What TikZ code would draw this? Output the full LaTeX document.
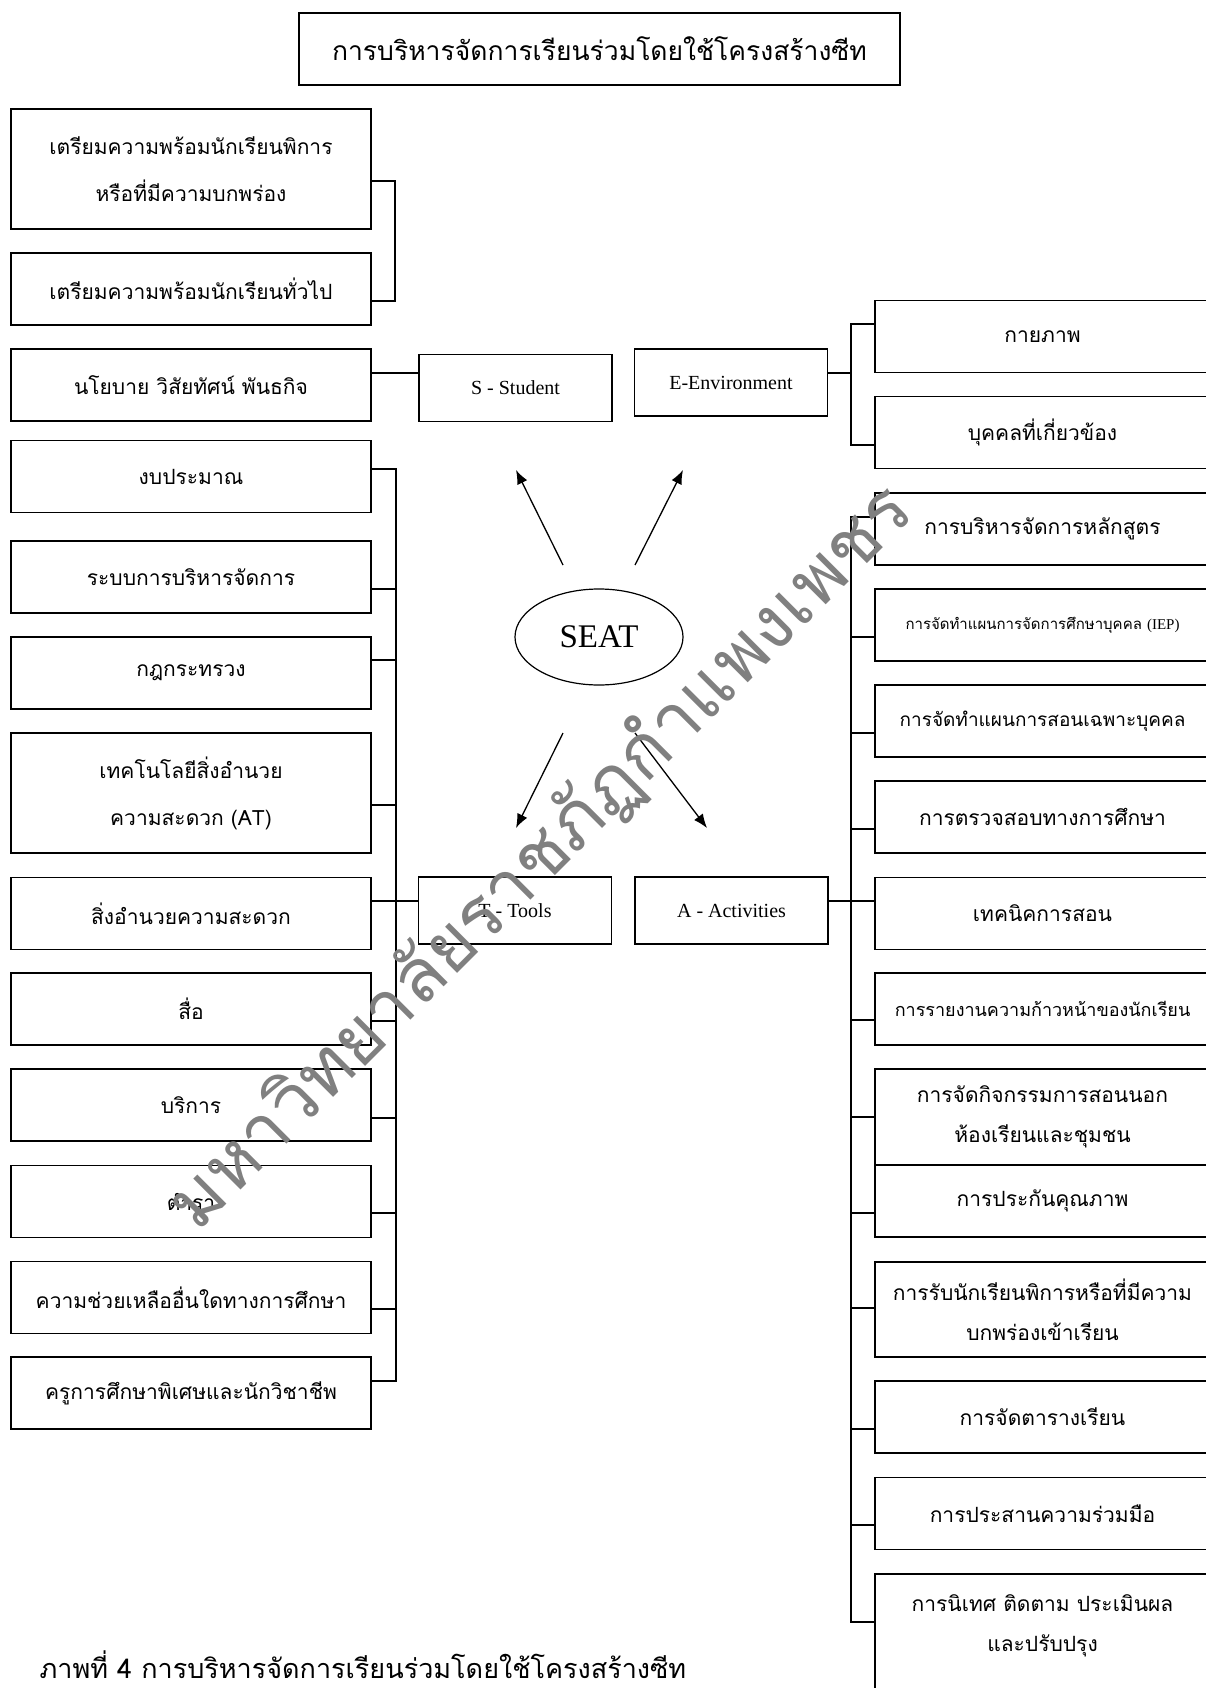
\documentclass[tikz,border=0pt]{standalone}
\usepackage{fontspec}
\setmainfont{Liberation Serif}
\newfontfamily\thaifont[Script=Thai]{Loma}
\usetikzlibrary{calc,arrows.meta,shapes.geometric}
\tikzset{
>={Latex[length=14pt,width=11pt]},
  punkt/.style={
    rectangle,
    draw=black, line width=1.6pt,
    minimum width=360pt,
    minimum height=72pt,
    inner sep=0pt,
    align=center,
    font=\thaifont\fontsize{21}{47}\selectfont},
  rechts/.style={
    punkt,
    minimum width=335pt,
    font=\thaifont\fontsize{21}{40}\selectfont},
  hub/.style={
    rectangle,
    draw=black, line width=1.6pt,
    minimum width=193pt,
    minimum height=67pt,
    inner sep=0pt,
    font=\fontsize{20}{24}\selectfont},
  line/.style={draw, line width=1.6pt},
  pil/.style={draw, line width=1.3pt, ->},
}
\begin{document}
\begin{tikzpicture}[x=1pt,y=-1pt]
  \useasboundingbox (0,0) rectangle (1206,1688);
  \clip (0,0) rectangle (1206,1688);
     \node[punkt, minimum width=601pt, line width=2pt,
       font=\thaifont\fontsize{26.5}{30}\selectfont] (title) at (599.5,49) {การบริหารจัดการเรียนร่วมโดยใช้โครงสร้างซีท};
     % student side
     \node[punkt, minimum height=120pt] (prepA) at (191,169) {เตรียมความพร้อมนักเรียนพิการ\\หรือที่มีความบกพร่อง};
     \node[punkt] (prepB) at (191,289) {เตรียมความพร้อมนักเรียนทั่วไป};
     \node[punkt] (policy) at (191,385) {นโยบาย วิสัยทัศน์ พันธกิจ};
     % tools side
     \node[punkt] (budget) at (191,476.5) {งบประมาณ};
     \node[punkt] (mgmt) at (191,577) {ระบบการบริหารจัดการ};
     \node[punkt] (rules) at (191,673) {กฎกระทรวง};
     \node[punkt, minimum height=120pt] (tech) at (191,793) {เทคโนโลยีสิ่งอำนวย\\ความสะดวก (AT)};
     \node[punkt] (facil) at (191,913.5) {สิ่งอำนวยความสะดวก};
     \node[punkt] (media) at (191,1009) {สื่อ};
     \node[punkt] (service) at (191,1105) {บริการ};
     \node[punkt] (texts) at (191,1201.5) {ตำรา};
     \node[punkt] (support) at (191,1297.5) {ความช่วยเหลืออื่นใดทางการศึกษา};
     \node[punkt] (teachers) at (191,1393) {ครูการศึกษาพิเศษและนักวิชาชีพ};
     % the four parts
     \node[hub] (student) at (515.5,388) {S - Student};
     \node[hub] (env) at (731,382.5) {E-Environment};
     \node[hub] (tools) at (515,910.5) {T - Tools};
     \node[hub] (acts) at (731.5,910.5) {A - Activities};
     \node[ellipse, draw, line width=1.2pt, minimum width=168pt, minimum height=96pt,
       font=\fontsize{33}{36}\selectfont] (seat) at (599,637) {SEAT};
     % environment side
     \node[rechts] (phys) at (1042.5,336.5) {กายภาพ};
     \node[rechts] (people) at (1042.5,432.5) {บุคคลที่เกี่ยวข้อง};
     % activities side
     \node[rechts] (curri) at (1042.5,529) {การบริหารจัดการหลักสูตร};
     \node[rechts, font=\thaifont\fontsize{15}{18}\selectfont] (iep) at (1042.5,625) {การจัดทำแผนการจัดการศึกษาบุคคล {\rmfamily (IEP)}};
     \node[rechts, font=\thaifont\fontsize{19}{22}\selectfont] (plan) at (1042.5,721) {การจัดทำแผนการสอนเฉพาะบุคคล};
     \node[rechts] (assess) at (1042.5,817) {การตรวจสอบทางการศึกษา};
     \node[rechts] (teach) at (1042.5,913.5) {เทคนิคการสอน};
     \node[rechts, font=\thaifont\fontsize{18}{22}\selectfont] (report) at (1042.5,1009) {การรายงานความก้าวหน้าของนักเรียน};
     \node[rechts, minimum height=96pt] (outside) at (1042.5,1117) {การจัดกิจกรรมการสอนนอก\\ห้องเรียนและชุมชน};
     \node[rechts] (qa) at (1042.5,1201) {การประกันคุณภาพ};
     \node[rechts, minimum height=95pt] (admit) at (1042.5,1309.5) {การรับนักเรียนพิการหรือที่มีความ\\บกพร่องเข้าเรียน};
     \node[rechts] (timetable) at (1042.5,1417) {การจัดตารางเรียน};
     \node[rechts] (coop) at (1042.5,1513.5) {การประสานความร่วมมือ};
     \node[rechts, minimum height=140pt, text depth=42pt] (supervise) at (1042.5,1644) {การนิเทศ ติดตาม ประเมินผล\\และปรับปรุง};
     % connectors
     \draw[line] (prepA.east |- 0,181) -- (395,181) -- (395,301) -- (prepB.east |- 0,301);
     \draw[line] (policy.east |- 0,373) -- (student.west |- 0,373);
     \draw[line] (env.east |- 0,373) -- (851,373);
     \draw[line] (phys.west |- 0,324) -- (851,324) -- (851,445) -- (people.west |- 0,445);
     \draw[line] (budget.east |- 0,469) -- (396,469) -- (396,1381) -- (teachers.east |- 0,1381);
     \foreach \n/\y in {mgmt/589,rules/660,tech/805,media/1021,service/1118,texts/1213,support/1309}
       \draw[line] (\n.east |- 0,\y) -- (396,\y);
     \draw[line] (facil.east |- 0,901) -- (tools.west |- 0,901);
     \draw[line] (curri.west |- 0,517) -- (851,517) -- (851,1622) -- (supervise.west |- 0,1622);
     \foreach \n/\y in {iep/637,plan/733,assess/829,report/1020,outside/1117,qa/1213,admit/1308,timetable/1429,coop/1525}
       \draw[line] (851,\y) -- (\n.west |- 0,\y);
     \draw[line] (acts.east |- 0,901) -- (teach.west |- 0,901);
     % arrows out of SEAT
     \draw[pil] ($(seat)+(-36,-72)$) -- ($(seat)+(-83,-167)$);
     \draw[pil] ($(seat)+(36,-72)$) -- ($(seat)+(84,-167)$);
     \draw[pil] ($(seat)+(-36,96)$) -- ($(seat)+(-83,191)$);
     \draw[pil] ($(seat)+(36,96)$) -- ($(seat)+(108,191)$);
     \node[anchor=base west, font=\thaifont\fontsize{27}{30}\selectfont] (caption) at (36,1678) {ภาพที่ 4 การบริหารจัดการเรียนร่วมโดยใช้โครงสร้างซีท};
     \node[rotate=45, text=black!50, font=\thaifont\fontsize{74}{80}\selectfont] (mark) at (541,858) {มหาวิทยาลัยราชภัฏกำแพงเพชร};
  \end{tikzpicture}
\end{document}
